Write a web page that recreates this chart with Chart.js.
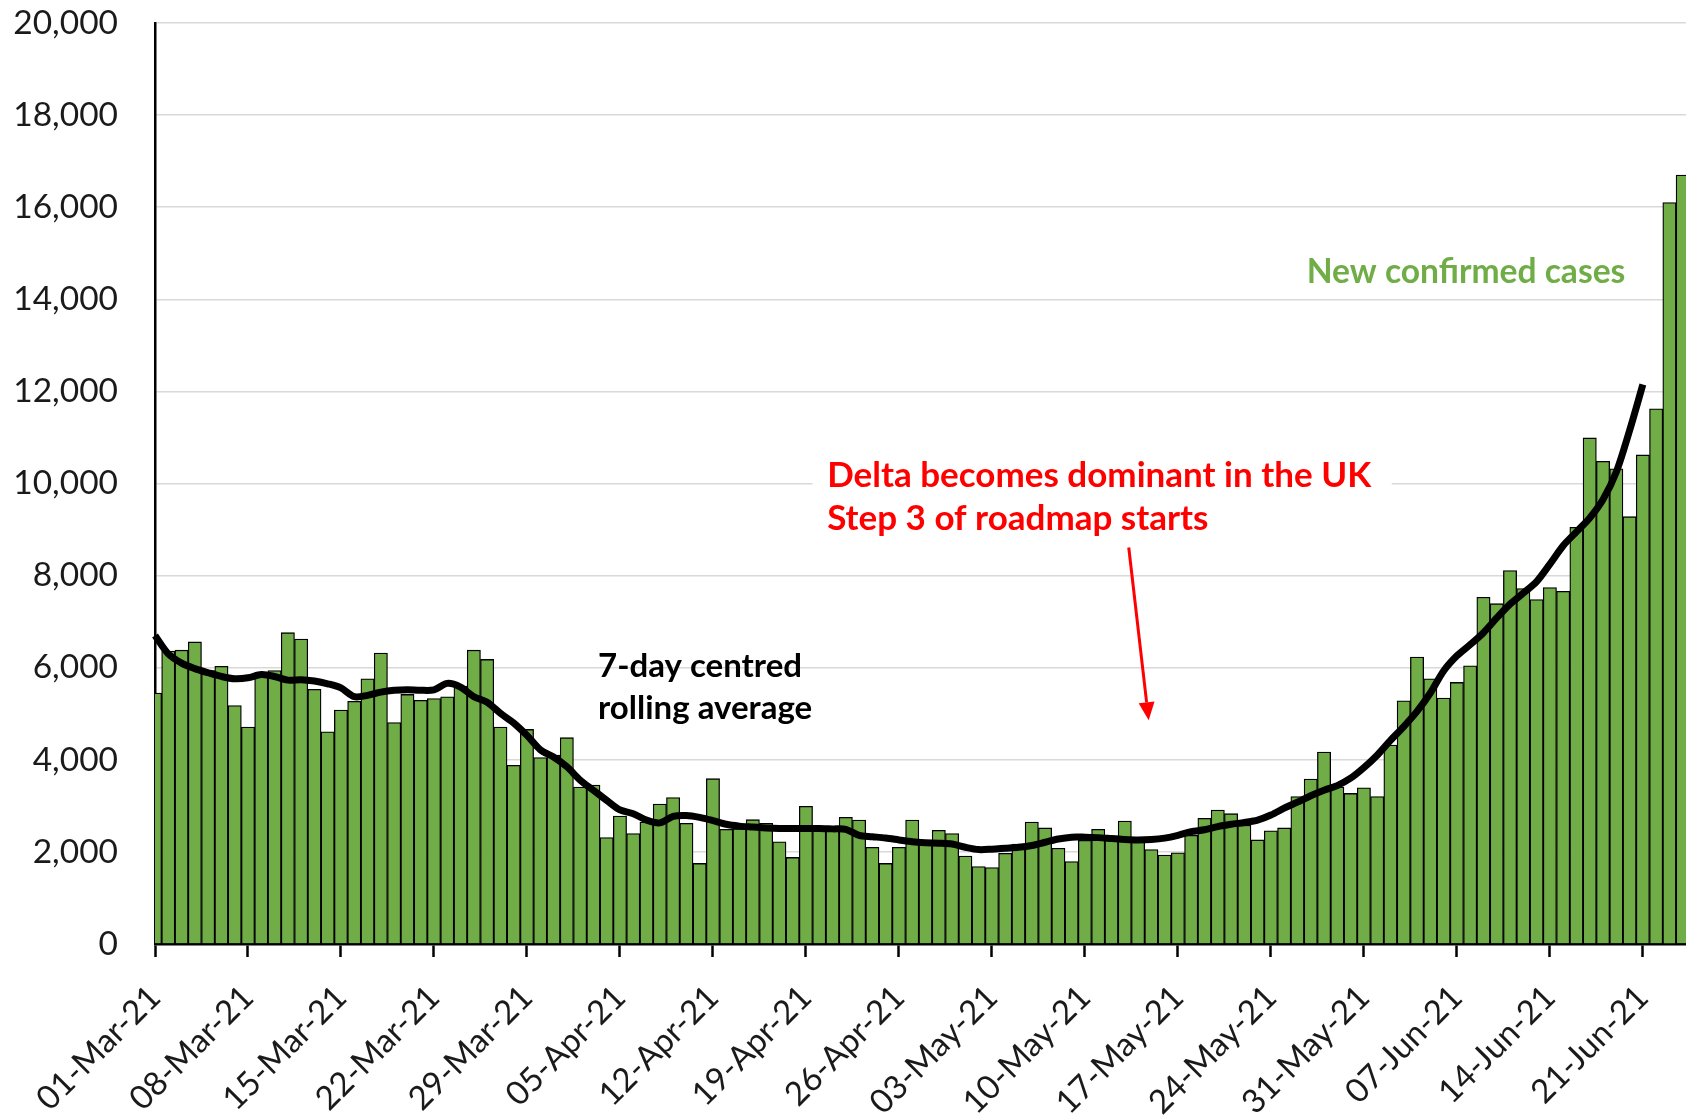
<!DOCTYPE html>
<html>
<head>
<meta charset="utf-8">
<title>New confirmed cases</title>
<script src="https://cdn.jsdelivr.net/npm/chart.js@4"></script>
<style>
  html, body { margin: 0; padding: 0; background: #fff; overflow: hidden; }
  #wrap { width: 1696px; height: 1116px; }
</style>
</head>
<body>
<div id="wrap"><canvas id="c" width="1696" height="1116"></canvas></div>
<script>
// Daily new confirmed cases, 01-Mar-21 .. 24-Jun-21 (one row per week).
const cases = [
  5450, 6360, 6380, 6560, 5940, 6030, 5180,
  4710, 5800, 5940, 6760, 6620, 5530, 4610,
  5080, 5270, 5760, 6320, 4810, 5420, 5290,
  5330, 5370, 5600, 6380, 6180, 4710, 3880,
  4660, 4050, 4100, 4480, 3410, 3450, 2310,
  2780, 2400, 2650, 3040, 3180, 2620, 1750,
  3590, 2490, 2500, 2700, 2620, 2220, 1880,
  2990, 2480, 2480, 2750, 2690, 2100, 1750,
  2100, 2690, 2220, 2470, 2400, 1910, 1680,
  1660, 1970, 2170, 2650, 2520, 2080, 1790,
  2250, 2490, 2290, 2670, 2220, 2050, 1930,
  1980, 2360, 2730, 2910, 2830, 2580, 2260,
  2460, 2520, 3200, 3580, 4170, 3410, 3270,
  3390, 3200, 4320, 5280, 6230, 5760, 5340,
  5680, 6040, 7530, 7390, 8110, 7720, 7480,
  7740, 7660, 9050, 10990, 10480, 10320, 9280,
  10620, 11620, 16100, 16700
];

// 7-day centred rolling average as drawn (ends 21-Jun-21).
const rolling = [
  6700, 6300, 6100, 5980, 5890, 5810, 5760,
  5780, 5850, 5810, 5730, 5740, 5710, 5650,
  5560, 5370, 5400, 5470, 5510, 5520, 5510,
  5520, 5660, 5580, 5370, 5250, 5010, 4800,
  4530, 4220, 4060, 3850, 3560, 3340, 3120,
  2910, 2830, 2690, 2630, 2770, 2790, 2750,
  2680, 2600, 2560, 2540, 2520, 2510, 2510,
  2510, 2510, 2500, 2490, 2360, 2330, 2300,
  2260, 2220, 2200, 2190, 2170, 2100, 2050,
  2060, 2080, 2100, 2140, 2210, 2280, 2320,
  2320, 2310, 2290, 2270, 2260, 2270, 2300,
  2360, 2440, 2480, 2550, 2600, 2640, 2690,
  2800, 2950, 3080, 3220, 3340, 3440, 3600,
  3830, 4100, 4420, 4720, 5050, 5450, 5930,
  6260, 6500, 6760, 7080, 7380, 7620, 7870,
  8250, 8650, 8950, 9250, 9650, 10250, 11150,
  12150
];

// y axis ticks
const yTicks = [0, 2000, 4000, 6000, 8000, 10000, 12000, 14000, 16000, 18000, 20000];

// one category per day, the picture is cut off part way through the last one
const monthNames = ['Jan', 'Feb', 'Mar', 'Apr', 'May', 'Jun', 'Jul'];
const days = [];
for (let i = 0; i < 117; i++) {
  const d = new Date(2021, 2, 1 + i);
  days.push(String(d.getDate()).padStart(2, '0') + '-' + monthNames[d.getMonth()] + '-21');
}

const green = '#70AD47';
const red = '#FF0000';

// Text notes placed in data units (day index, case count).
const notes = [
  { text: '7-day centred', day: 33.35, value: 5790, color: '#000', size: 33 },
  { text: 'rolling average', day: 33.35, value: 4880, color: '#000', size: 33 },
  { text: 'Delta becomes dominant in the UK', day: 50.6, value: 9930, color: red, size: 35 },
  { text: 'Step 3 of roadmap starts', day: 50.6, value: 8980, color: red, size: 35 },
  { text: 'New confirmed cases', day: 86.7, value: 14360, color: green, size: 33.6 }
];

const notesPlugin = {
  id: 'notes',
  afterDatasetsDraw(chart) {
    const ctx = chart.ctx;
    const x = chart.scales.x;
    const y = chart.scales.y;
    ctx.save();

    // white box behind the red note
    ctx.fillStyle = '#fff';
    const bx = x.getPixelForValue(49.5), bx2 = x.getPixelForValue(93.1);
    const by = y.getPixelForValue(10600), by2 = y.getPixelForValue(8400);
    ctx.fillRect(bx, by, bx2 - bx, by2 - by);

    ctx.textBaseline = 'alphabetic';
    ctx.textAlign = 'left';
    notes.forEach(n => {
      ctx.font = 'bold ' + n.size + 'px Lato';
      ctx.fillStyle = n.color;
      ctx.fillText(n.text, x.getPixelForValue(n.day), y.getPixelForValue(n.value));
    });

    // red arrow
    const x0 = x.getPixelForValue(73.3), y0 = y.getPixelForValue(8610);
    const x1 = x.getPixelForValue(74.8), y1 = y.getPixelForValue(4860);
    const ang = Math.atan2(y1 - y0, x1 - x0);
    const head = 18;
    ctx.strokeStyle = red;
    ctx.lineWidth = 3;
    ctx.beginPath();
    ctx.moveTo(x0, y0);
    ctx.lineTo(x1 - head * Math.cos(ang), y1 - head * Math.sin(ang));
    ctx.stroke();
    ctx.fillStyle = red;
    ctx.beginPath();
    ctx.moveTo(x1, y1);
    ctx.lineTo(x1 - head * Math.cos(ang) + 8 * Math.sin(ang), y1 - head * Math.sin(ang) - 8 * Math.cos(ang));
    ctx.lineTo(x1 - head * Math.cos(ang) - 8 * Math.sin(ang), y1 - head * Math.sin(ang) + 8 * Math.cos(ang));
    ctx.closePath();
    ctx.fill();
    ctx.restore();
  }
};

Chart.defaults.font.family = 'Lato';
Chart.defaults.color = '#1a1a1a';

new Chart(document.getElementById('c'), {
  type: 'bar',
  data: {
    labels: days,
    datasets: [
      {
        type: 'line',
        label: '7-day centred rolling average',
        data: rolling,
        borderColor: '#000',
        borderWidth: 7,
        pointRadius: 0,
        tension: 0.3,
        order: 0
      },
      {
        label: 'New confirmed cases',
        data: cases,
        backgroundColor: green,
        borderColor: '#000',
        borderWidth: 1.3,
        barPercentage: 1,
        categoryPercentage: 1,
        order: 1
      }
    ]
  },
  options: {
    responsive: false,
    animation: false,
    layout: { padding: { top: 23, left: 0, right: 0, bottom: 0 } },
    plugins: {
      legend: { display: false },
      tooltip: { enabled: false }
    },
    scales: {
      x: {
        offset: false,
        grid: {
          offset: false,
          drawOnChartArea: false,
          drawTicks: true,
          tickLength: 13,
          tickWidth: 2.5,
          tickColor: '#000'
        },
        border: { color: '#000', width: 2.5 },
        ticks: {
          autoSkip: false,
          minRotation: 45,
          maxRotation: 45,
          padding: 21,
          font: { size: 33 }
        },
        afterBuildTicks: (scale) => {
          scale.ticks = scale.ticks.filter(t => t.value % 7 === 0);
        },
        afterFit: (scale) => { scale.height = 172; }
      },
      y: {
        min: 0,
        max: 20000,
        afterBuildTicks: (scale) => {
          scale.ticks = yTicks.map(v => ({ value: v }));
        },
        grid: {
          color: '#D9D9D9',
          lineWidth: 1.5,
          drawTicks: false
        },
        border: { color: '#000', width: 2.5 },
        ticks: {
          padding: 37,
          font: { size: 33.5 },
          callback: (v) => v.toLocaleString('en-US')
        },
        afterFit: (scale) => {
          scale.width = 155;
          scale.paddingTop = 0;
          scale.paddingBottom = 0;
        }
      }
    }
  },
  plugins: [notesPlugin]
});
</script>
</body>
</html>
